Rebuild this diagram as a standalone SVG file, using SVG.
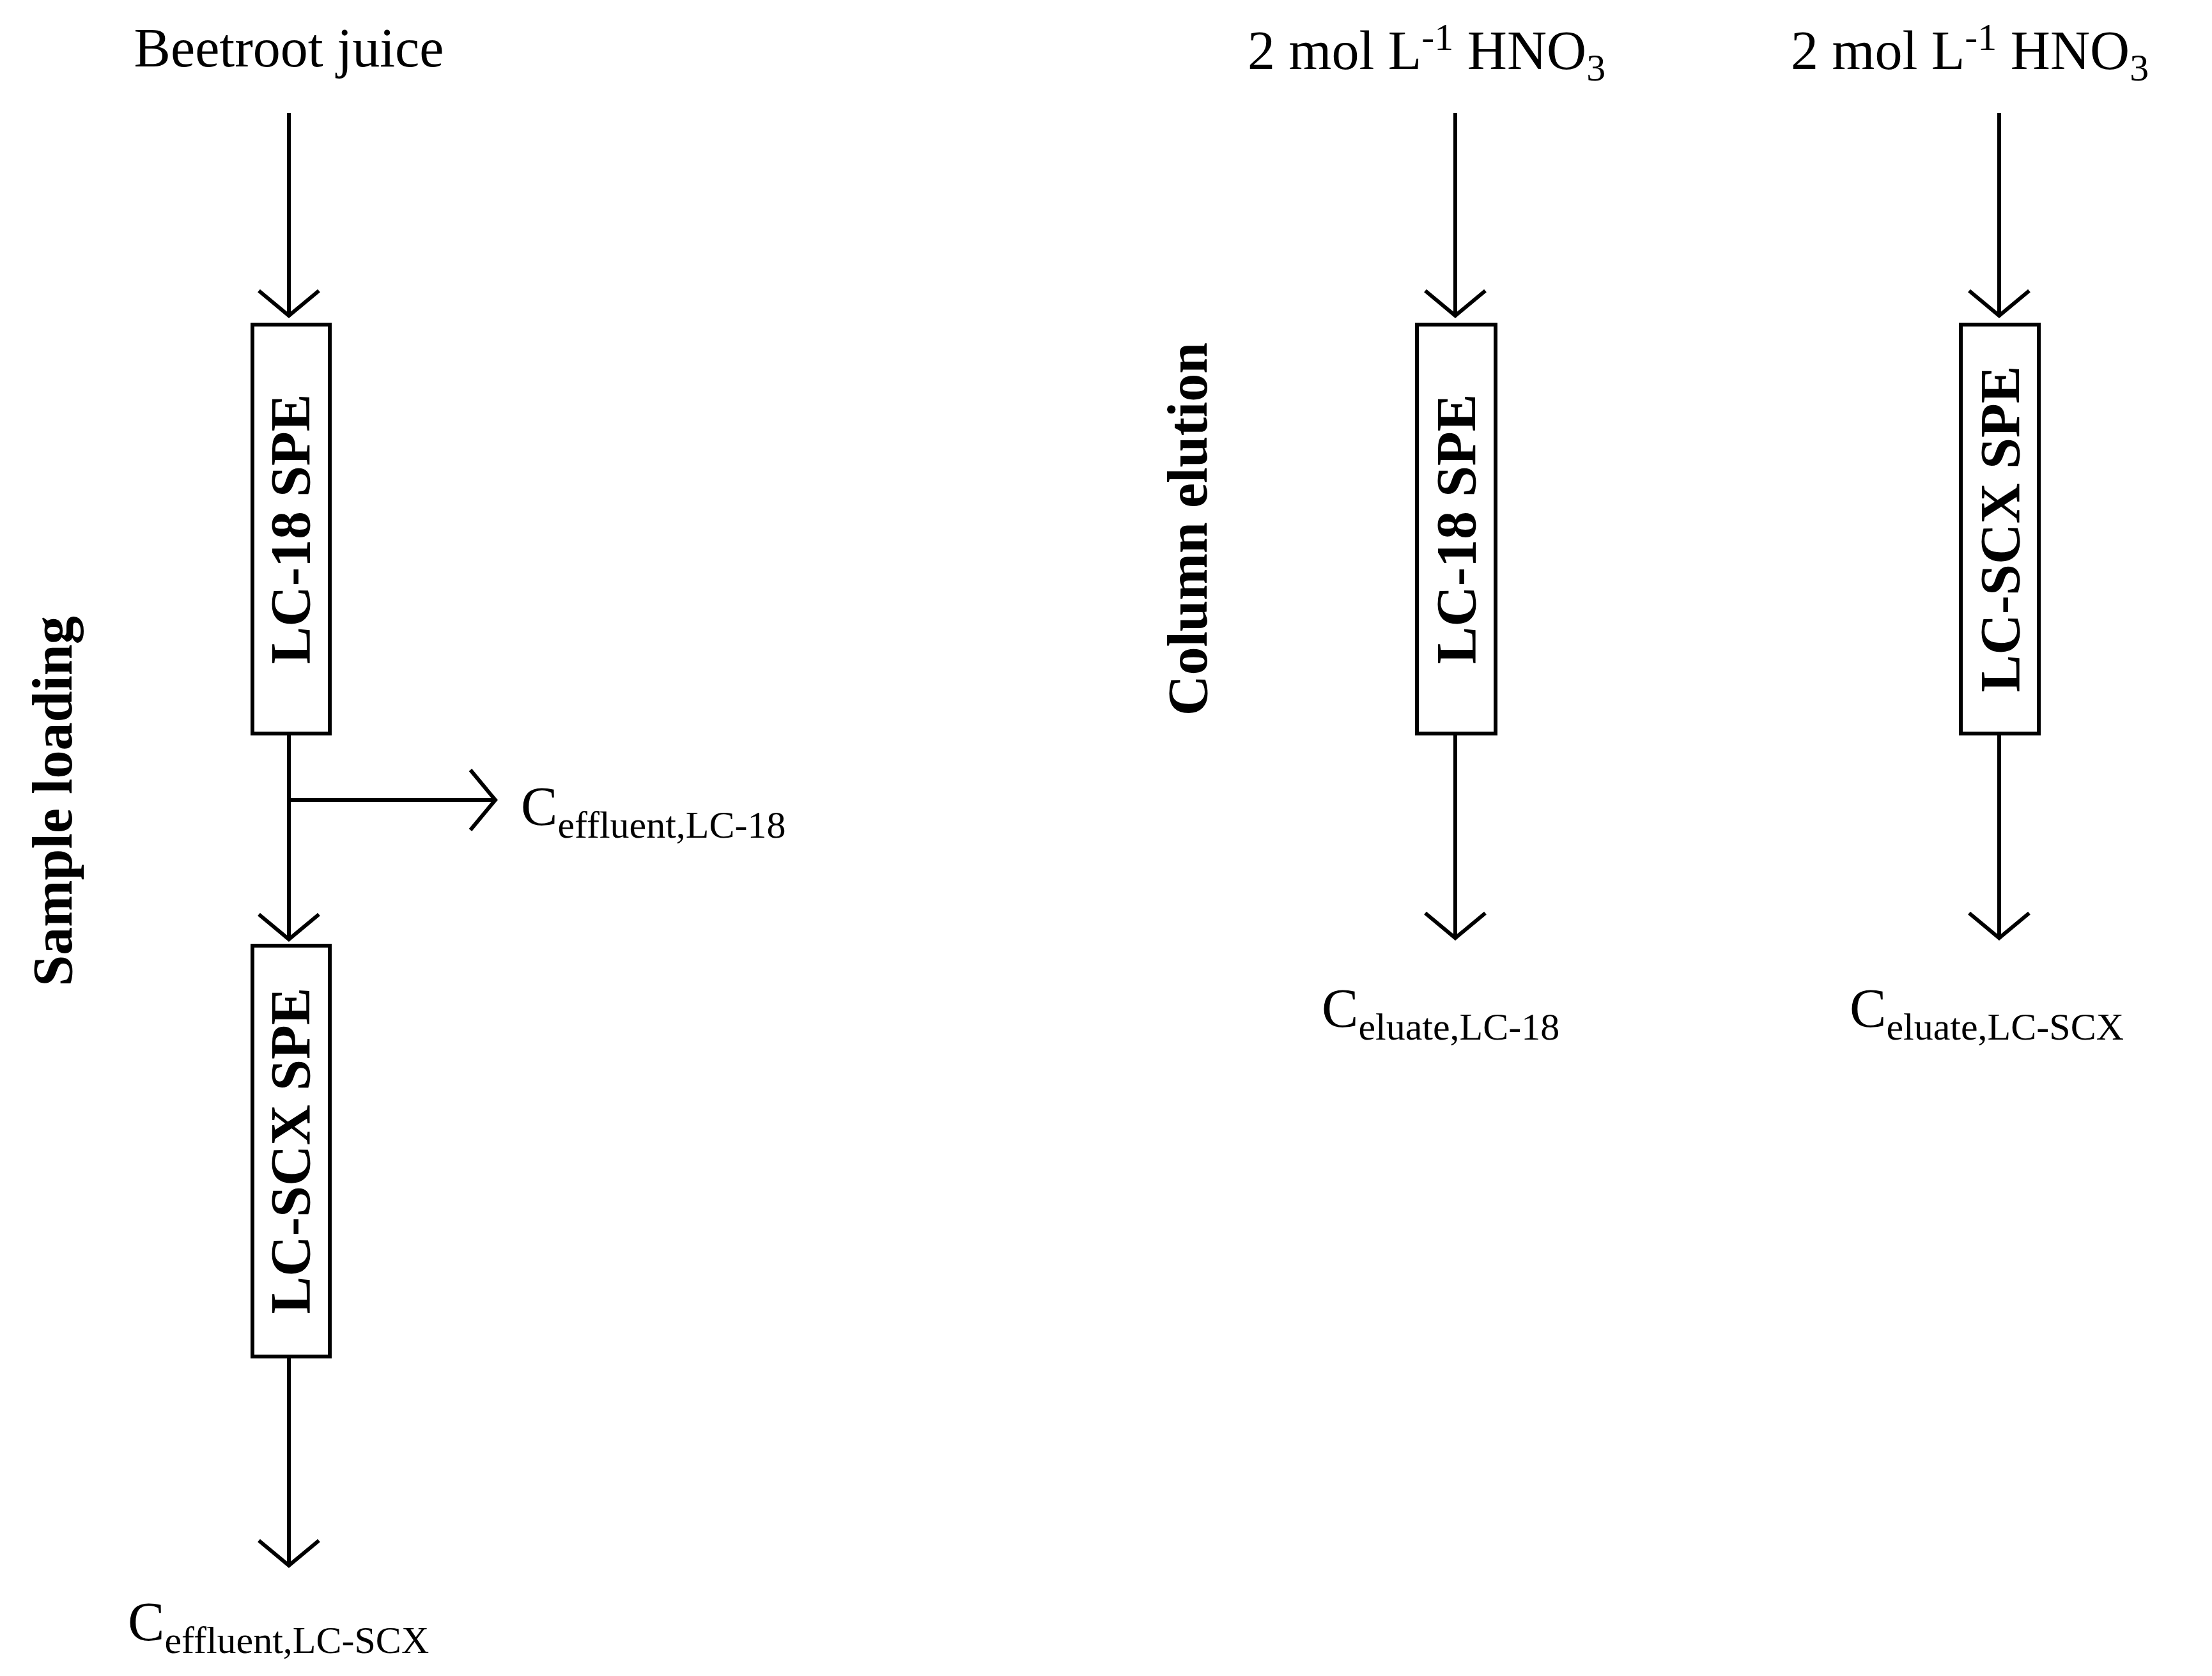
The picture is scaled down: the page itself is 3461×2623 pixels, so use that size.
<svg xmlns="http://www.w3.org/2000/svg" width="3461" height="2623" viewBox="0 0 3461 2623">
<style>
text{font-family:"Liberation Serif","DejaVu Serif",serif;fill:#000}
.t{font-size:86px}
.b{font-size:88px;font-weight:bold}
.s{font-size:60px}
line,polyline,rect{stroke:#000;stroke-width:6;fill:none}
</style>
<rect width="3461" height="2623" fill="#fff" style="stroke:none"/>
<g id="labels">
<text class="t" x="452" y="104" text-anchor="middle">Beetroot juice</text>
<text class="t" x="1952" y="108">2 mol L<tspan class="s" dy="-30">-1</tspan><tspan dy="30"> HNO</tspan><tspan class="s" dy="18">3</tspan></text>
<text class="t" x="2802" y="108">2 mol L<tspan class="s" dy="-30">-1</tspan><tspan dy="30"> HNO</tspan><tspan class="s" dy="18">3</tspan></text>
<text class="b" transform="translate(112,1254) rotate(-90)" text-anchor="middle">Sample loading</text>
<text class="b" transform="translate(1888,828) rotate(-90)" text-anchor="middle">Column elution</text>
<text class="t" x="815" y="1291">C<tspan class="s" dy="20">effluent,LC-18</tspan></text>
<text class="t" x="200" y="2567">C<tspan class="s" dy="20">effluent,LC-SCX</tspan></text>
<text class="t" x="2068" y="1607">C<tspan class="s" dy="20">eluate,LC-18</tspan></text>
<text class="t" x="2894" y="1607">C<tspan class="s" dy="20">eluate,LC-SCX</tspan></text>
</g>
<g id="n1"><rect x="395" y="508" width="121" height="640"/><text class="b" transform="translate(484,828) rotate(-90)" text-anchor="middle">LC-18 SPE</text></g>
<g id="n2"><rect x="395" y="1480" width="121" height="643"/><text class="b" transform="translate(484,1801) rotate(-90)" text-anchor="middle">LC-SCX SPE</text></g>
<g id="n3"><rect x="2217" y="508" width="123" height="640"/><text class="b" transform="translate(2308,828) rotate(-90)" text-anchor="middle">LC-18 SPE</text></g>
<g id="n4"><rect x="3068" y="508" width="122" height="640"/><text class="b" transform="translate(3159,828) rotate(-90)" text-anchor="middle">LC-SCX SPE</text></g>
<g id="connectors">
<line x1="452" y1="177" x2="452" y2="494"/><polyline points="405,455 452,494 499,455"/>
<line x1="452" y1="1148" x2="452" y2="1470"/><polyline points="405,1431 452,1470 499,1431"/>
<line x1="452" y1="1252" x2="775" y2="1252"/><polyline points="736,1205 775,1252 736,1299"/>
<line x1="452" y1="2123" x2="452" y2="2450"/><polyline points="405,2411 452,2450 499,2411"/>
<line x1="2277" y1="177" x2="2277" y2="494"/><polyline points="2230,455 2277,494 2324,455"/>
<line x1="2277" y1="1148" x2="2277" y2="1468"/><polyline points="2230,1429 2277,1468 2324,1429"/>
<line x1="3128" y1="177" x2="3128" y2="494"/><polyline points="3081,455 3128,494 3175,455"/>
<line x1="3128" y1="1148" x2="3128" y2="1468"/><polyline points="3081,1429 3128,1468 3175,1429"/>
</g>
</svg>
